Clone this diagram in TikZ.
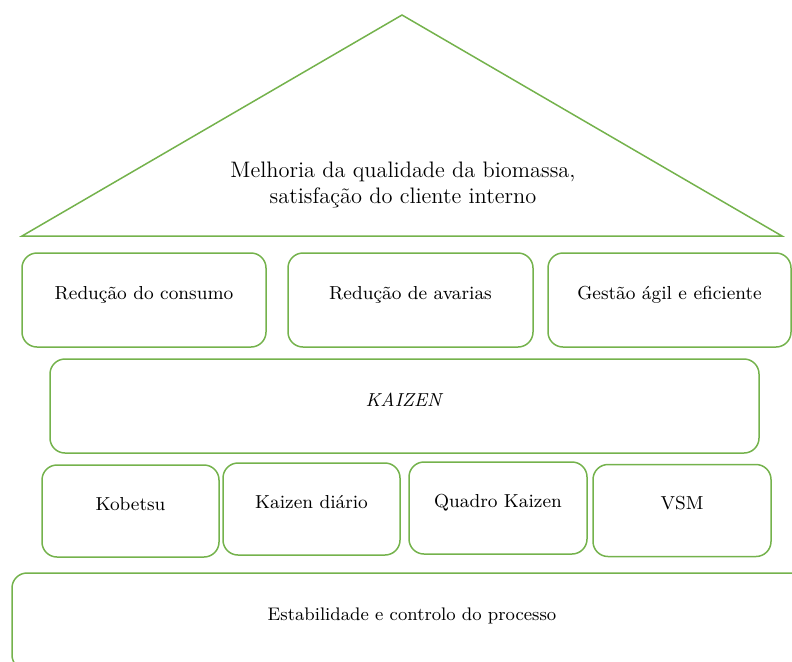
\documentclass[tikz,border=0pt]{standalone}
\usepackage{xcolor}
\usepackage{tikz}
\usetikzlibrary{positioning}
\definecolor{leafgreen}{RGB}{116,178,76}

\begin{document}
\begin{tikzpicture}[
   x = 0.5pt, y = -0.5pt,
   node distance = 4pt,
   roof/.style = {draw=leafgreen, line width=0.75pt, line join=miter},
   pillar/.style = {draw=leafgreen, line width=0.75pt, rounded corners=7.5pt, outer sep=0pt, minimum height=47pt, text height=7pt, text depth=8pt, align=center, font=\fontsize{9.4}{11}\selectfont, anchor=north west}
   ]
  \useasboundingbox (0,0) rectangle (792,661);
  \clip (0,0) rectangle (792,661);

  % Roof
  \draw[roof] (22,236) -- (402,15) -- (782,236) -- cycle;
  \node[align=center, font=\fontsize{11.2}{13}\selectfont] (goal) at (403,185)
   {Melhoria da qualidade da biomassa,\\
   satisfação do cliente interno};

  % Results row
  \node[pillar, minimum width=122pt] (consumo) at (22,253) {Redução do consumo};
  \node[pillar, minimum width=122.5pt, anchor=center, right=11pt of consumo] (avarias) {Redução de avarias};
  \node[pillar, minimum width=121.5pt, anchor=center, right=7.5pt of avarias] (gestao) {Gestão ágil e eficiente};

  % Kaizen beam
  \node[pillar, minimum width=354.5pt, text depth=7pt] (kaizen) at (50,359) {\textit{KAIZEN}};

  % Tools row
  \node[pillar, minimum width=88.5pt, minimum height=46pt] (kobetsu) at (42,465) {Kobetsu};
  \node[pillar, minimum width=88.5pt, minimum height=46pt, anchor=center, right=2pt of kobetsu, yshift=1pt] (diario) {Kaizen diário};
  \node[pillar, minimum width=89pt, minimum height=46pt, anchor=center, right=4.5pt of diario, yshift=0.5pt] (quadro) {Quadro Kaizen};
  \node[pillar, minimum width=89pt, minimum height=46pt, anchor=center, right=3pt of quadro, yshift=-1.25pt] (vsm) {VSM};

  % Base
  \node[pillar, minimum width=400pt, minimum height=48.5pt, font=\fontsize{9.1}{11}\selectfont] (base) at (12,573) {Estabilidade e controlo do processo};
\end{tikzpicture}
\end{document}
